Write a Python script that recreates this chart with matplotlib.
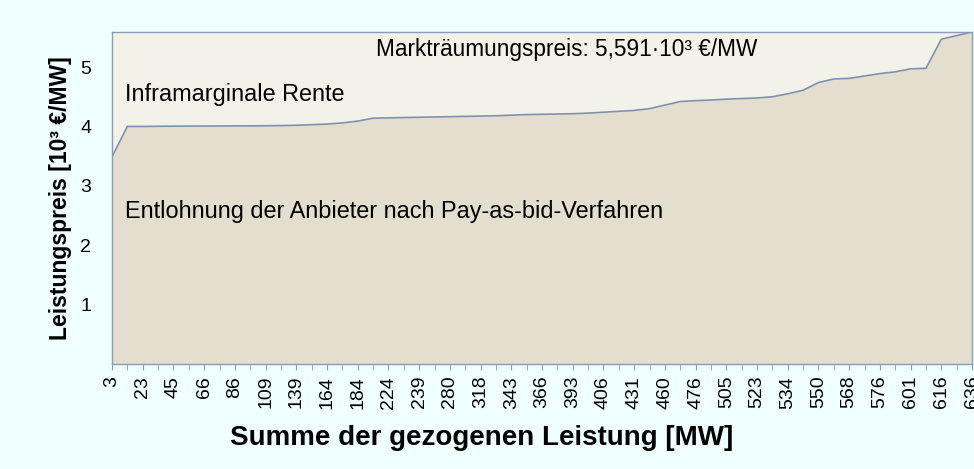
import matplotlib.pyplot as plt

plt.rcParams['font.family'] = ['Liberation Sans', 'DejaVu Sans']

# Gebotsreihenfolge (Merit-Order), Leistungspreise in 10^3 EUR/MW
preise = [3.49, 4.00, 4.00, 4.003, 4.005, 4.006, 4.007, 4.008, 4.009, 4.01,
          4.012, 4.015, 4.02, 4.03, 4.04, 4.06, 4.09, 4.14, 4.145, 4.15,
          4.155, 4.16, 4.165, 4.17, 4.175, 4.18, 4.19, 4.20, 4.205, 4.21,
          4.215, 4.225, 4.24, 4.255, 4.27, 4.30, 4.36, 4.42, 4.435, 4.445,
          4.46, 4.47, 4.48, 4.50, 4.55, 4.61, 4.74, 4.80, 4.81, 4.85,
          4.89, 4.92, 4.97, 4.98, 5.47, 5.53, 5.591]
leistung_labels = ['3', '23', '45', '66', '86', '109', '139', '164', '184', '224',
                   '239', '280', '318', '343', '366', '393', '406', '431', '460', '476',
                   '505', '523', '534', '550', '568', '576', '601', '616', '636']
markt_preis = 5.591

x = list(range(len(preise)))

fig = plt.figure(figsize=(9.74, 4.69), dpi=100, facecolor='#F0FFFF')
ax = fig.add_axes([0.115, 0.2239, 0.883, 0.7079])

ax.fill_between(x, preise, markt_preis, color='#F2F2E8', lw=0)
ax.fill_between(x, 0, preise, color='#E4DECE', lw=0)
ax.plot(x, preise, color='#7F91AF', lw=1.2)

ax.set_xlim(0, len(preise) - 1)
ax.set_ylim(0, markt_preis)

ax.set_xticks(x, minor=True)
ax.set_xticks(x[::2])
ax.set_xticklabels(leistung_labels, rotation=90, fontsize=14)
ax.tick_params(axis='x', which='both', direction='out', length=4.5, color='#8C9DB8', pad=4)
ax.set_yticks([1, 2, 3, 4, 5])
ax.tick_params(axis='y', length=0, pad=15, labelsize=14)

for s in ax.spines.values():
    s.set_color('#8C9DB8')
    s.set_linewidth(1)

ax.text(29.6, 5.29, 'Markträumungspreis: 5,591·10³ €/MW', ha='center', va='center', fontsize=16.3)
ax.text(0.85, 4.53, 'Inframarginale Rente', ha='left', va='center', fontsize=16.9)
ax.text(0.85, 2.56, 'Entlohnung der Anbieter nach Pay-as-bid-Verfahren', ha='left', va='center', fontsize=16.9)

ax.set_ylabel('Leistungspreis [10³ €/MW]', fontsize=16.5, fontweight='bold', labelpad=6)
fig.text(0.494, 0.066, 'Summe der gezogenen Leistung [MW]', ha='center', va='center',
         fontsize=20, fontweight='bold')

fig.savefig('out.png', dpi=100, facecolor=fig.get_facecolor())
